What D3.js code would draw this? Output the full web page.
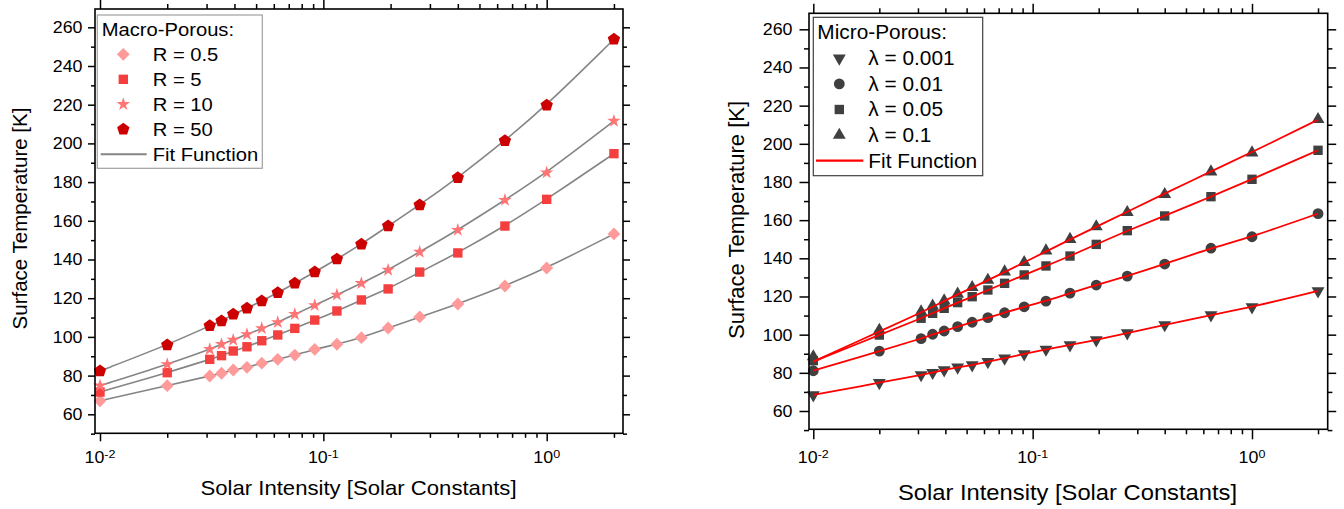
<!DOCTYPE html>
<html>
<head>
<meta charset="utf-8">
<script src="https://cdn.jsdelivr.net/npm/d3@7"></script>
<style>
  body { margin: 0; background: #fff; }
  text { font-family: "Liberation Sans", Arial, sans-serif; fill: #000; }
</style>
</head>
<body>
<svg id="chart" width="1344" height="509"></svg>
<script>
// Solar intensity of each sample [solar constants]
const intensity = [0.01, 0.02, 0.031, 0.035, 0.0395, 0.0455, 0.053, 0.0625, 0.0745,
                   0.0915, 0.115, 0.148, 0.195, 0.27, 0.4, 0.65, 1, 2];

// Macro-porous surface temperatures [K]
const macroR05 = [67.0, 74.8, 79.8, 81.2, 82.9, 84.3, 86.4, 88.4, 90.6, 93.6, 96.2, 99.6, 104.6, 110.3, 117.0, 126.3, 135.6, 153.2];
const macroR5  = [71.5, 81.5, 88.4, 90.3, 92.7, 94.9, 98.0, 101.0, 104.4, 108.7, 113.4, 119.1, 124.8, 133.5, 143.4, 157.3, 171.1, 194.7];
const macroR10 = [74.8, 85.8, 93.6, 96.2, 98.4, 101.3, 104.4, 107.5, 111.7, 116.3, 121.7, 127.7, 134.6, 143.9, 155.2, 170.7, 184.9, 211.6];
const macroR50 = [82.4, 95.8, 105.8, 108.2, 111.7, 114.8, 118.6, 122.8, 127.7, 133.5, 140.2, 147.9, 157.3, 168.2, 182.3, 201.4, 219.7, 253.8];

// Micro-porous surface temperatures [K]
const microL0001 = [68.4, 74.8, 78.9, 80.1, 81.5, 82.9, 84.1, 85.8, 87.6, 89.9, 92.3, 94.6, 97.2, 100.9, 105.1, 110.3, 114.5, 122.9];
const microL001  = [81.1, 91.4, 97.9, 100.2, 101.9, 104.2, 106.5, 108.9, 111.5, 114.6, 117.6, 121.8, 126.0, 130.7, 137.0, 145.3, 151.3, 163.4];
const microL005  = [86.4, 99.8, 108.6, 111.2, 113.8, 116.8, 119.9, 123.4, 126.9, 131.3, 136.0, 141.2, 147.3, 154.5, 162.2, 172.3, 181.4, 196.6];
const microL01   = [88.5, 102.4, 112.0, 115.0, 117.8, 121.3, 124.8, 128.6, 133.0, 137.9, 144.0, 150.0, 156.6, 164.1, 173.5, 185.4, 195.3, 212.8];

// Fitted curves for the micro-porous series (same abscissae)
const fitL0001 = microL0001;
const fitL001  = microL001;
const fitL005  = [85.9, 99.8, 108.6, 111.2, 113.8, 116.8, 119.9, 123.4, 126.9, 131.3, 136.0, 141.2, 147.3, 154.5, 162.2, 172.3, 181.4, 196.6];
const fitL01   = [85.9, 101.6, 111.6, 114.6, 117.6, 121.1, 124.6, 128.5, 132.8, 137.8, 143.6, 149.8, 156.6, 164.3, 174.0, 185.5, 195.6, 212.6];

// Axis ticks
const yMajorTicks = [60, 80, 100, 120, 140, 160, 180, 200, 220, 240, 260];
const yMinorTicks = [50, 70, 90, 110, 130, 150, 170, 190, 210, 230, 250, 270];
const xMajorExponents = [-2, -1, 0];
const xMinorTicks = [0.02, 0.03, 0.04, 0.05, 0.06, 0.07, 0.08, 0.09,
                     0.2, 0.3, 0.4, 0.5, 0.6, 0.7, 0.8, 0.9, 2];

// Legend texts
const macroTitle = "Macro-Porous:";
const macroLabels = ["R = 0.5", "R = 5", "R = 10", "R = 50"];
const microTitle = "Micro-Porous:";
const microLabels = ["λ = 0.001", "λ = 0.01", "λ = 0.05", "λ = 0.1"];
const fitLabel = "Fit Function";
const xTitle = "Solar Intensity [Solar Constants]";
const yTitle = "Surface Temperature [K]";

const svg = d3.select("#chart");
const SX = 1.08; // horizontal glyph stretch

// Regular pentagon symbol, point up
const symbolPentagon = {
  draw(ctx, size) {
    const r = Math.sqrt(size / (2.5 * Math.sin(2 * Math.PI / 5)));
    for (let i = 0; i < 5; i++) {
      const a = -Math.PI / 2 + i * 2 * Math.PI / 5;
      const px = r * Math.cos(a), py = r * Math.sin(a);
      i ? ctx.lineTo(px, py) : ctx.moveTo(px, py);
    }
    ctx.closePath();
  }
};

function stretchedText(g, x, y, str, opts = {}) {
  const t = g.append("text")
    .attr("transform", `translate(${x},${y}) scale(${SX},1)` + (opts.rotate ? ` rotate(${opts.rotate})` : ""))
    .attr("font-size", opts.size || 16.5)
    .attr("text-anchor", opts.anchor || "start")
    .text(str);
  if (opts.dy) t.attr("dy", opts.dy);
  return t;
}

function drawPanel(cfg) {
  const g = svg.append("g");
  const x = d3.scaleLog().domain([0.01, 1]).range(cfg.xRange);
  const y = d3.scaleLinear().domain([60, 260]).range(cfg.yRange);
  const [fx0, fx1] = cfg.frameX, [fy0, fy1] = cfg.frameY;
  const yMin = y.invert(fy1), yMax = y.invert(fy0);
  const yMinor = yMinorTicks.filter(v => v >= yMin - 0.5 && v <= yMax + 0.5);
  const xMajor = xMajorExponents.map(e => Math.pow(10, e));
  const T = cfg.ticks;

  const tickAxis = (axisFn, scale, vals, size, tx, ty) => {
    g.append("g")
      .attr("transform", `translate(${tx},${ty})`)
      .call(axisFn(scale).tickValues(vals).tickSize(size).tickFormat("").tickSizeOuter(0))
      .call(a => a.select(".domain").remove())
      .call(a => a.selectAll("line").attr("stroke", "#000").attr("stroke-width", 1.5));
  };
  tickAxis(d3.axisBottom, x, xMajor, T.bottom[0], 0, fy1);
  tickAxis(d3.axisBottom, x, xMinorTicks, T.bottom[1], 0, fy1);
  tickAxis(d3.axisTop, x, xMajor, T.top[0], 0, fy0);
  tickAxis(d3.axisTop, x, xMinorTicks, T.top[1], 0, fy0);
  tickAxis(d3.axisLeft, y, yMajorTicks, T.left[0], fx0, 0);
  tickAxis(d3.axisLeft, y, yMinor, T.left[1], fx0, 0);
  tickAxis(d3.axisRight, y, yMajorTicks, T.right[0], fx1, 0);
  tickAxis(d3.axisRight, y, yMinor, T.right[1], fx1, 0);

  // Tick labels
  yMajorTicks.forEach(v => {
    stretchedText(g, fx0 - cfg.yLabelGap, y(v), String(v), { anchor: "end", dy: "0.36em", size: cfg.tickFont });
  });
  xMajorExponents.forEach(e => {
    const t = g.append("text")
      .attr("transform", `translate(${x(Math.pow(10, e))},${cfg.xLabelBaseline}) scale(${SX},1)`)
      .attr("text-anchor", "middle")
      .attr("font-size", cfg.tickFont);
    t.append("tspan").text("10");
    t.append("tspan").attr("font-size", cfg.tickFont * 0.7).attr("dy", -5.5).text(String(e));
  });

  // Axis titles
  stretchedText(g, cfg.xTitlePos[0], cfg.xTitlePos[1], xTitle, { anchor: "middle", size: cfg.titleFont });
  g.append("text")
    .attr("transform", `translate(${cfg.yTitlePos[0]},${cfg.yTitlePos[1]}) rotate(-90)`)
    .attr("text-anchor", "middle")
    .attr("font-size", cfg.titleFont)
    .text(yTitle);

  // Fit curves and markers
  const line = d3.line().x((d, i) => x(intensity[i])).y(d => y(d)).curve(d3.curveBasis);
  const drawFits = () => cfg.fits.forEach(f => {
    g.append("path").attr("d", line(f)).attr("fill", "none")
      .attr("stroke", cfg.fitColor).attr("stroke-width", cfg.fitWidth);
  });
  const drawMarks = () => cfg.series.forEach(s => {
    const sym = d3.symbol().type(s.type).size(s.size);
    g.append("g").selectAll("path").data(s.values).join("path")
      .attr("d", sym)
      .attr("transform", (d, i) => `translate(${x(intensity[i])},${y(d)}) rotate(${s.rotate || 0})`)
      .attr("fill", s.color);
  });
  if (cfg.fitsOnTop) { drawMarks(); drawFits(); } else { drawFits(); drawMarks(); }

  // Frame
  g.append("rect").attr("x", fx0).attr("y", fy0).attr("width", fx1 - fx0).attr("height", fy1 - fy0)
    .attr("fill", "none").attr("stroke", "#000").attr("stroke-width", 1.6);

  // Legend
  const L = cfg.legend;
  g.append("rect").attr("x", L.box[0]).attr("y", L.box[1])
    .attr("width", L.box[2] - L.box[0]).attr("height", L.box[3] - L.box[1])
    .attr("fill", "#fff").attr("stroke", L.border).attr("stroke-width", 1.2);
  stretchedText(g, L.titleX, L.titleY, L.title, { size: L.font });
  cfg.series.forEach((s, i) => {
    const cy = L.rowY0 + i * L.rowStep;
    g.append("path").attr("d", d3.symbol().type(s.type).size(s.size)())
      .attr("transform", `translate(${L.symX},${cy}) rotate(${s.rotate || 0})`)
      .attr("fill", s.color);
    stretchedText(g, L.textX, cy, L.labels[i], { size: L.font, dy: "0.36em" });
  });
  const ly = L.rowY0 + cfg.series.length * L.rowStep;
  g.append("line").attr("x1", L.lineX[0]).attr("x2", L.lineX[1]).attr("y1", ly).attr("y2", ly)
    .attr("stroke", cfg.fitColor).attr("stroke-width", cfg.fitWidth + 0.4);
  stretchedText(g, L.textX, ly, fitLabel, { size: L.font, dy: "0.36em" });
}

// Left panel: macro-porous
drawPanel({
  xRange: [100, 546.7], yRange: [414.3, 27.3],
  frameX: [95, 623], frameY: [9, 433.3],
  ticks: { bottom: [8, 4.5], top: [9, 5], left: [7, 4], right: [7, 4] },
  tickFont: 16.5, titleFont: 20.5, yLabelGap: 12.5, xLabelBaseline: 463.3,
  xTitlePos: [358.5, 495], yTitlePos: [27, 218.5],
  fitColor: "#858585", fitWidth: 1.6, fitsOnTop: false,
  fits: [macroR05, macroR5, macroR10, macroR50],
  series: [
    { values: macroR05, type: d3.symbolSquare, size: 82, rotate: 45, color: "#ff9a9a" },
    { values: macroR5,  type: d3.symbolSquare, size: 88, color: "#f53e3e" },
    { values: macroR10, type: d3.symbolStar,   size: 56, color: "#ff7474" },
    { values: macroR50, type: symbolPentagon,  size: 100, color: "#cc0000" }
  ],
  legend: {
    box: [97.3, 15, 262.3, 168.3], border: "#a0a0a0", font: 18.7,
    title: macroTitle, titleX: 101.7, titleY: 36,
    labels: macroLabels, symX: 123.3, textX: 152.7, rowY0: 54.3, rowStep: 25,
    lineX: [100.7, 146.7]
  }
});

// Right panel: micro-porous
drawPanel({
  xRange: [813.3, 1252], yRange: [411, 29.3],
  frameX: [809, 1327.7], frameY: [13.3, 429.3],
  ticks: { bottom: [10, 5], top: [9.5, 5], left: [9.5, 5], right: [8.5, 4.7] },
  tickFont: 16.5, titleFont: 22, yLabelGap: 16.5, xLabelBaseline: 463.3,
  xTitlePos: [1067.5, 500], yTitlePos: [744, 220],
  fitColor: "#ff0000", fitWidth: 1.8, fitsOnTop: true,
  fits: [fitL0001, fitL001, fitL005, fitL01],
  series: [
    { values: microL0001, type: d3.symbolTriangle, size: 72, rotate: 180, color: "#404040" },
    { values: microL001,  type: d3.symbolCircle,   size: 92, color: "#404040" },
    { values: microL005,  type: d3.symbolSquare,   size: 88, color: "#404040" },
    { values: microL01,   type: d3.symbolTriangle, size: 72, color: "#404040" }
  ],
  legend: {
    box: [813.3, 17.3, 982.7, 175.7], border: "#404040", font: 19.3,
    title: microTitle, titleX: 817.3, titleY: 39.3,
    labels: microLabels, symX: 839.3, textX: 868.3, rowY0: 58.3, rowStep: 25.6,
    lineX: [816, 863.3]
  }
});
</script>
</body>
</html>
